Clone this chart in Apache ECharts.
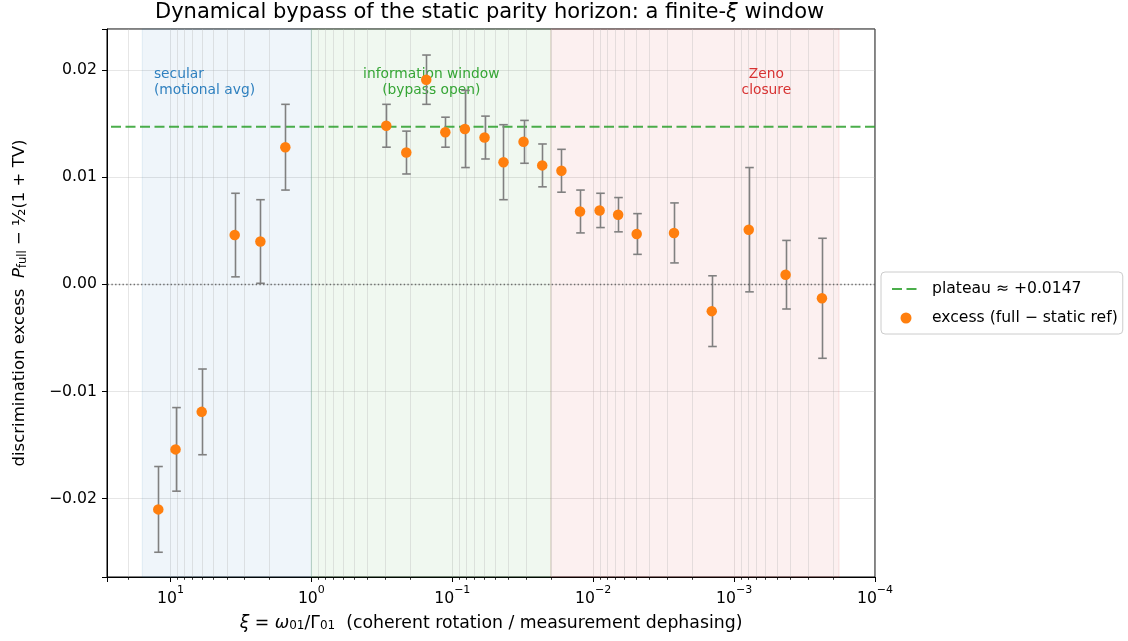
<!DOCTYPE html>
<html>
<head>
<meta charset="utf-8">
<script src="https://cdn.jsdelivr.net/npm/echarts@6/dist/echarts.min.js"></script>
<style>
html,body{margin:0;padding:0;background:#fff;}
#chart{width:1128px;height:641px;}
</style>
</head>
<body>
<div id="chart"></div>
<script>
// ---- data ----
const xi = [12.2, 9.2, 6.0, 3.5, 2.3, 1.53, 0.294, 0.212, 0.153, 0.112, 0.0814, 0.059, 0.0433, 0.0312, 0.0230, 0.0168, 0.0124, 0.0090, 0.00665, 0.00491, 0.00267, 0.00144, 0.000787, 0.000431, 0.000238];
const excess = [-0.0210, -0.0154, -0.0119, 0.0046, 0.0040, 0.0128, 0.0148, 0.0123, 0.0191, 0.0142, 0.0145, 0.0137, 0.0114, 0.0133, 0.0111, 0.0106, 0.0068, 0.0069, 0.0065, 0.0047, 0.0048, -0.0025, 0.0051, 0.0009, -0.0013];
const errs = [0.0040, 0.0039, 0.0040, 0.0039, 0.0039, 0.0040, 0.0020, 0.0020, 0.0023, 0.0014, 0.0036, 0.0020, 0.0035, 0.0020, 0.0020, 0.0020, 0.0020, 0.0016, 0.0016, 0.0019, 0.0028, 0.0033, 0.0058, 0.0032, 0.0056];
const plateau = 0.0147;
const xLimits = [1e-4, 28.2];
const yLimits = [-0.02731, 0.02383];
const regionBounds = [[15.85, 1], [1, 0.02], [0.02, 0.00018]];
const regionNames = ['secular', 'information window', 'Zeno closure'];
const annotations = [
  {x: 13.1, y: 0.0204, text: 'secular\n(motional avg)', align: 'left', color: '#2f80bf'},
  {x: 0.141, y: 0.0204, text: 'information window\n(bypass open)', align: 'center', color: '#35a535'},
  {x: 0.00059, y: 0.0204, text: 'Zeno\nclosure', align: 'center', color: '#d73333'}
];
const plateauName = 'plateau \u2248 +0.0147';
const excessName = 'excess (full \u2212 static ref)';

// minor log ticks (axis decoration)
const minorTicks = [];
for (let d = -4; d <= 1; d++) {
  for (let m = 2; m <= 9; m++) {
    const v = m * Math.pow(10, d);
    if (v > xLimits[0] && v < xLimits[1]) minorTicks.push([v, 0]);
  }
}

const FONT = 'DejaVu Sans';
const TICK = 15.7, LAB = 16.5, XLAB = 17.3;
const gridColor = 'rgba(176,176,176,0.32)';
const chart = echarts.init(document.getElementById('chart'), null, {renderer: 'canvas'});

const regionFill = ['rgba(31,119,180,0.07)', 'rgba(44,160,44,0.07)', 'rgba(214,39,40,0.07)'];
const regionEdge = ['rgba(31,119,180,0.10)', 'rgba(44,160,44,0.12)', 'rgba(214,39,40,0.12)'];

function minus(s) { return String(s).replace('-', '\u2212'); }

const option = {
  animation: false,
  backgroundColor: '#fff',
  textStyle: {fontFamily: FONT},
  title: {
    text: 'Dynamical bypass of the static parity horizon: a finite-{i|\u03be} window',
    left: 155, top: 2, padding: 0,
    textStyle: {fontFamily: FONT, fontSize: 21, fontWeight: 'normal', color: '#000',
      rich: {i: {fontFamily: FONT, fontSize: 21, fontStyle: 'italic', color: '#000'}}}
  },
  grid: {left: 107, right: 253, top: 29, bottom: 64, show: true, borderColor: '#000', borderWidth: 1, backgroundColor: 'transparent'},
  legend: {
    orient: 'vertical', left: 881, top: 272,
    backgroundColor: '#fff', borderColor: '#cccccc', borderWidth: 1, borderRadius: 4,
    padding: [9, 5, 8, 10], itemGap: 13, itemWidth: 28, itemHeight: 11,
    textStyle: {fontFamily: FONT, fontSize: 15.6, color: '#000', padding: [0, 0, 0, 7]},
    data: [
      {name: plateauName},
      {name: excessName, icon: 'circle'}
    ]
  },
  xAxis: {
    type: 'log', logBase: 10, min: xLimits[0], max: xLimits[1], inverse: true,
    name: '{i|\u03be} = {i|\u03c9}{sub|01}/\u0393{sub|01}  (coherent rotation / measurement dephasing)',
    nameLocation: 'middle', nameGap: 38,
    nameTextStyle: {fontFamily: FONT, fontSize: XLAB, color: '#000',
      rich: {i: {fontFamily: FONT, fontSize: XLAB, fontStyle: 'italic', color: '#000'},
             sub: {fontFamily: FONT, fontSize: 12, color: '#000', verticalAlign: 'bottom', lineHeight: 16, padding: [7, 0, 0, 0]}}},
    axisLine: {show: true, onZero: false, lineStyle: {color: '#000', width: 1}},
    axisTick: {show: true, length: 5, inside: false, lineStyle: {color: '#000', width: 1}},
    splitLine: {show: true, lineStyle: {color: gridColor, width: 1}},
    axisLabel: {
      margin: 8, color: '#000', fontFamily: FONT, fontSize: TICK,
      formatter: function (v) {
        const e = Math.round(Math.log10(v));
        if (Math.abs(Math.log10(v) - e) > 1e-6) return '';
        return '{b|10}{s|' + minus(e) + '}';
      },
      rich: {
        b: {fontFamily: FONT, fontSize: TICK, color: '#000', lineHeight: 22, verticalAlign: 'bottom'},
        s: {fontFamily: FONT, fontSize: 11, color: '#000', lineHeight: 22, verticalAlign: 'top'}
      }
    }
  },
  yAxis: {
    type: 'value', min: yLimits[0], max: yLimits[1], splitNumber: 5,
    name: 'discrimination excess  {i|P}{sub|full} \u2212 {f|\u00bd}(1 + TV)',
    nameLocation: 'middle', nameRotate: 90, nameGap: 78,
    nameTextStyle: {fontFamily: FONT, fontSize: LAB, color: '#000',
      rich: {i: {fontFamily: FONT, fontSize: LAB, fontStyle: 'italic', color: '#000'},
             sub: {fontFamily: FONT, fontSize: 11.5, color: '#000', verticalAlign: 'bottom', lineHeight: 16, padding: [7, 0, 0, 0]},
             f: {fontFamily: FONT, fontSize: 18, color: '#000'}}},
    axisLine: {show: true, lineStyle: {color: '#000', width: 1}},
    axisTick: {show: true, length: 5, inside: false, lineStyle: {color: '#000', width: 1}},
    splitLine: {show: true, lineStyle: {color: gridColor, width: 1}},
    axisLabel: {
      margin: 10, color: '#000', fontFamily: FONT, fontSize: TICK,
      formatter: function (v) {
        if (Math.abs(v * 100 - Math.round(v * 100)) > 1e-6) return '';
        return minus(v.toFixed(2));
      }
    }
  },
  series: [
    {
      // minor gridlines/ticks + shaded regimes + zero line
      type: 'custom', name: 'minor', silent: true, z: 1,
      data: minorTicks,
      renderItem: function (params, api) {
        const cs = params.coordSys;
        const x = Math.round(api.coord([api.value(0), 0])[0]) + 0.5;
        const yb = cs.y + cs.height;
        return {type: 'group', children: [
          {type: 'line', shape: {x1: x, y1: cs.y, x2: x, y2: yb}, style: {stroke: gridColor, lineWidth: 1}},
          {type: 'line', shape: {x1: x, y1: yb, x2: x, y2: yb + 2.8}, style: {stroke: '#000', lineWidth: 0.8}}
        ]};
      },
      markArea: {
        silent: true,
        data: regionBounds.map(function (b, i) {
          return [{name: regionNames[i], xAxis: b[0], itemStyle: {color: regionFill[i], borderColor: regionEdge[i], borderWidth: 1}},
                  {xAxis: b[1]}];
        }),
        label: {show: false}
      },
      markLine: {
        silent: true, symbol: 'none',
        label: {show: false},
        lineStyle: {color: 'rgba(90,90,90,0.85)', width: 1.3, type: [1.4, 2.3]},
        data: [{yAxis: 0}]
      }
    },
    {
      name: 'annotations', type: 'scatter', z: 2, silent: true,
      symbol: 'circle', symbolSize: 1,
      itemStyle: {color: 'rgba(0,0,0,0)'},
      data: annotations.map(function (a) {
        return {value: [a.x, a.y], label: {align: a.align, color: a.color}};
      }),
      label: {
        show: true, position: 'inside', offset: [0, 0],
        formatter: function (p) { return annotations[p.dataIndex].text; },
        fontFamily: FONT, fontSize: 13.8, lineHeight: 16.5, verticalAlign: 'top',
        textBorderWidth: 0, opacity: 1
      }
    },
    {
      name: plateauName, type: 'line', z: 3,
      data: [[xLimits[0], plateau], [xLimits[1], plateau]],
      showSymbol: false, symbol: 'none',
      lineStyle: {color: 'rgba(44,160,44,0.85)', width: 2, type: [10, 4.5]},
      itemStyle: {color: 'rgba(44,160,44,0.85)', opacity: 0}
    },
    {
      name: 'errorbars', type: 'custom', z: 4,
      data: xi.map(function (x, i) { return [x, excess[i], errs[i]]; }),
      renderItem: function (params, api) {
        const x = api.value(0), y = api.value(1), e = api.value(2);
        const lo = api.coord([x, y - e]);
        const hi = api.coord([x, y + e]);
        const cx = Math.round(lo[0]) + 0.5;
        const st = {stroke: '#808080', lineWidth: 1.6};
        return {type: 'group', children: [
          {type: 'line', shape: {x1: cx, y1: lo[1], x2: cx, y2: hi[1]}, style: st},
          {type: 'line', shape: {x1: cx - 4.3, y1: lo[1], x2: cx + 4.3, y2: lo[1]}, style: st},
          {type: 'line', shape: {x1: cx - 4.3, y1: hi[1], x2: cx + 4.3, y2: hi[1]}, style: st}
        ]};
      }
    },
    {
      name: excessName, type: 'scatter', z: 5,
      data: xi.map(function (x, i) { return [x, excess[i]]; }),
      symbol: 'circle', symbolSize: 10.5,
      itemStyle: {color: '#ff7f0e', opacity: 1}
    }
  ]
};
chart.setOption(option);
</script>
</body>
</html>
